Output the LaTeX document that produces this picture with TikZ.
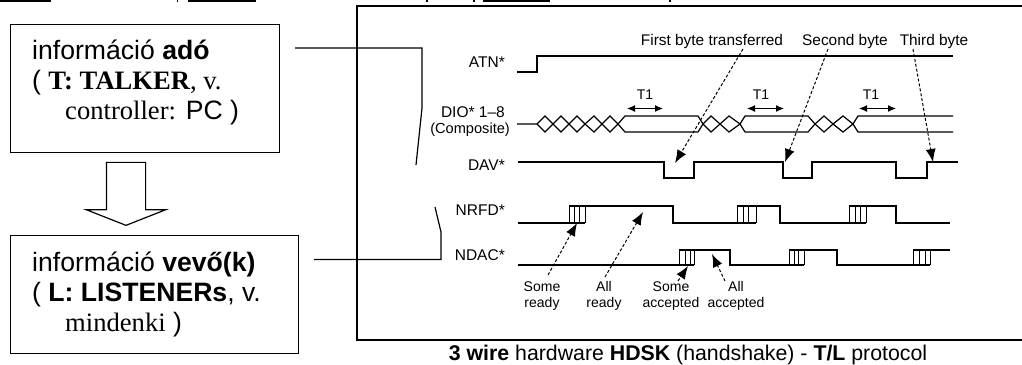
\documentclass[tikz,border=0pt]{standalone}
\usepackage{fontspec}
\setmainfont{Liberation Sans}
\newfontfamily\timesfont{Liberation Serif}
\usetikzlibrary{shapes.arrows, arrows.meta}

\begin{document}
\begin{tikzpicture}[
  x=1pt, y=-1pt,
  infobox/.style={draw=black, line width=1.3pt, inner sep=0pt, minimum height=#1},
  infotext/.style={anchor=north west, inner sep=0pt, align=left, font=\fontsize{26.6}{30}\selectfont},
  sig/.style={draw=black, line width=1.2pt},
  tick/.style={draw=black, line width=1pt},
  pointer/.style={draw=black, line width=1pt, densely dashed, -{Latex[length=13pt, width=10pt, sep=0pt]}},
  wire/.style={draw=black, line width=1.2pt},
  siglabel/.style={anchor=east, inner sep=0pt, font=\fontsize{15.5}{17}\selectfont},
  bytelabel/.style={inner sep=0pt, font=\fontsize{15.4}{17}\selectfont},
  notelabel/.style={inner sep=0pt, align=center, font=\fontsize{14}{16}\selectfont},
  span/.style={draw=black, line width=1pt, {Latex[length=8pt, width=7pt]}-{Latex[length=8pt, width=7pt]}}
]
  \useasboundingbox (0,0) rectangle (1022,364);

  % clipped line above the picture
  \fill (0,0) rectangle (51,2);
  \fill (188,0) rectangle (256,2);
  \fill (483,0) rectangle (550,2);
  \fill (176.5,0) rectangle (178,1.5);
  \fill (426,0) rectangle (427.5,2);
  \fill (473,0) rectangle (474.5,1.5);
  \fill (669,0) rectangle (671,2);

  % left boxes
  \node[infobox=128pt, minimum width=269pt] (talker) at (145,88.5) {};
  \node[infotext] (talkertext) at (32,40)
    {információ \textbf{adó}\\
     ( {\timesfont\textbf{T: TALKER}, v.}\\
     \hspace*{33pt}{\timesfont controller:} PC )};
  \node[infobox=118pt, minimum width=288pt] (listener) at (154.5,294.5) {};
  \node[infotext] (listenertext) at (32,252)
    {információ \textbf{vevő(k)}\\
     ( \textbf{L: LISTENERs}, v.\\
     \hspace*{33pt}{\timesfont mindenki} )};
  \node[draw=black, line width=1.2pt, single arrow, shape border rotate=270, inner sep=19pt,
        minimum width=78pt, minimum height=63pt, single arrow head extend=20pt,
        single arrow tip angle=137] (handover) at (126,190) {};

  % frame, open at the right
  \draw[line width=1.3pt] (1022,6) -- (357,6) -- (357,340) -- (1022,340);

  % wires from the boxes
  \coordinate (talkerwire) at (295,48);
  \coordinate (talkerend) at (416,165);
  \coordinate (listenerwire) at (314,259.5);
  \coordinate (listenerend) at (435,207);
  \draw[wire] (talkerwire) -- (422,48) -- (422,108) -- (talkerend);
  \draw[wire] (listenerwire) -- (441,259.5) -- (441,232) -- (listenerend);

  % signal names
  \node[siglabel] (atn) at (505,62) {ATN*};
  \node[siglabel] (dio) at (505,112) {DIO* 1--8};
  \node[siglabel, font=\fontsize{14.6}{16}\selectfont] (composite) at (510,130) {(Composite)};
  \node[siglabel] (dav) at (505,165) {DAV*};
  \node[siglabel] (nrfd) at (505,210) {NRFD*};
  \node[siglabel] (ndac) at (505,255) {NDAC*};

  % ATN and DAV
  \draw[sig] (517,72) -- (537,72) -- (537,56) -- (953,56);
  \draw[sig] (518,162) -- (664,162) -- (664,178) -- (694,178) -- (694,162) -- (783,162)
    -- (783,178) -- (812,178) -- (812,162) -- (896,162) -- (896,178) -- (927,178)
    -- (927,162) -- (958,162);

  % DIO bus
  \draw[sig] (517,124) -- (537,124) -- (545,116) -- (553,124) -- (561,116) -- (569,124)
    -- (577,116) -- (585,124) -- (594,116) -- (602,124) -- (610,116) -- (618,124)
    -- (625,132) -- (698,132) -- (703,124) -- (711,116) -- (720,124) -- (729,116)
    -- (740,124) -- (745,132) -- (808,132) -- (815,124) -- (824,116) -- (833,124)
    -- (843,116) -- (853,124) -- (858,132) -- (953,132);
  \draw[sig] (537,124) -- (545,132) -- (553,124) -- (561,132) -- (569,124)
    -- (577,132) -- (585,124) -- (594,132) -- (602,124) -- (610,132) -- (618,124)
    -- (625,116) -- (698,116) -- (703,124) -- (711,132) -- (720,124) -- (729,132)
    -- (740,124) -- (745,116) -- (808,116) -- (815,124) -- (824,132) -- (833,124)
    -- (843,132) -- (853,124) -- (858,116) -- (953,116);

  % NRFD
  \draw[sig] (518,223) -- (585,223) (569,206) -- (673,206) -- (673,223) -- (756,223)
    (737,206) -- (780,206) -- (780,223) -- (866,223) (849,206) -- (896,206) -- (896,223) -- (950,223);
  \draw[tick] (569,206) -- (569,223) (574,206) -- (574,223) (579,206) -- (579,223) (585,206) -- (585,223);
  \draw[tick] (737,206) -- (737,223) (743,206) -- (743,223) (748,206) -- (748,223) (756,206) -- (756,223);
  \draw[tick] (849,206) -- (849,223) (855,206) -- (855,223) (860,206) -- (860,223) (866,206) -- (866,223);

  % NDAC
  \draw[sig] (518,265) -- (694,265) (679,250) -- (730,250) -- (730,265) -- (804,265)
    (789,250) -- (837,250) -- (837,265) -- (930,265) (913,250) -- (950,250);
  \draw[tick] (679,250) -- (679,265) (685,250) -- (685,265) (690,250) -- (690,265) (694,250) -- (694,265);
  \draw[tick] (789,250) -- (789,265) (794,250) -- (794,265) (798,250) -- (798,265) (804,250) -- (804,265);
  \draw[tick] (913,250) -- (913,265) (919,250) -- (919,265) (925,250) -- (925,265) (930,250) -- (930,265);

  % T1 marks
  \node[bytelabel, font=\fontsize{14}{16}\selectfont] (tone) at (645,95) {T1};
  \node[bytelabel, font=\fontsize{14}{16}\selectfont] (ttwo) at (761,95) {T1};
  \node[bytelabel, font=\fontsize{14}{16}\selectfont] (tthree) at (871,95) {T1};
  \coordinate (toneleft) at (627,108.5);
  \coordinate (toneright) at (663,108.5);
  \coordinate (ttwoleft) at (747,108.5);
  \coordinate (ttworight) at (784,108.5);
  \coordinate (tthreeleft) at (859,108.5);
  \coordinate (tthreeright) at (896,108.5);
  \draw[span] (toneleft) -- (toneright);
  \draw[span] (ttwoleft) -- (ttworight);
  \draw[span] (tthreeleft) -- (tthreeright);

  % byte labels and pointers
  \node[bytelabel] (first) at (712,42) {First byte transferred};
  \node[bytelabel] (second) at (845,42) {Second byte};
  \node[bytelabel] (third) at (934,42) {Third byte};
  \coordinate (firsttop) at (743,49);
  \coordinate (secondtop) at (828,49);
  \coordinate (thirdtop) at (913,49);
  \coordinate (firsttip) at (675,163);
  \coordinate (secondtip) at (785,162);
  \coordinate (thirdtip) at (933,162);
  \draw[pointer] (firsttop) -- (firsttip);
  \draw[pointer] (secondtop) -- (secondtip);
  \draw[pointer] (thirdtop) -- (thirdtip);

  % handshake notes and pointers
  \node[notelabel] (someready) at (542,296) {\strut Some\\ready\strut};
  \node[notelabel] (allready) at (604,296) {\strut All\\ready\strut};
  \node[notelabel] (someacc) at (671,296) {\strut Some\\accepted\strut};
  \node[notelabel] (allacc) at (736,296) {\strut All\\accepted\strut};
  \coordinate (somereadytail) at (548,275);
  \coordinate (allreadytail) at (605,277);
  \coordinate (someacctail) at (678,281);
  \coordinate (allacctail) at (725,281);
  \coordinate (somereadytip) at (577,223);
  \coordinate (allreadytip) at (643,212);
  \coordinate (someacctip) at (688,266);
  \coordinate (allacctip) at (712,254);
  \draw[pointer] (somereadytail) -- (somereadytip);
  \draw[pointer] (allreadytail) -- (allreadytip);
  \draw[pointer] (someacctail) -- (someacctip);
  \draw[pointer] (allacctail) -- (allacctip);

  \node[inner sep=0pt, anchor=base, font=\fontsize{21.3}{24}\selectfont] (caption) at (688,360)
    {\textbf{3 wire} hardware \textbf{HDSK} (handshake) - \textbf{T/L} protocol};
\end{tikzpicture}
\end{document}
